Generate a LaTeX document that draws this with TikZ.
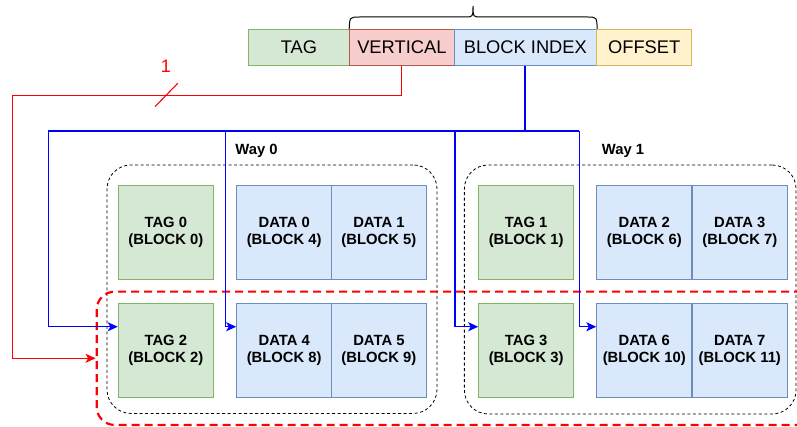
\documentclass[tikz,border=0pt]{standalone}
\usepackage{fontspec}
\setmainfont{Liberation Sans}
\usetikzlibrary{arrows.meta,calc}
\definecolor{gfill}{HTML}{D5E8D4}\definecolor{gline}{HTML}{82B366}
\definecolor{rfill}{HTML}{F8CECC}\definecolor{rline}{HTML}{B85450}
\definecolor{bfill}{HTML}{DAE8FC}\definecolor{bline}{HTML}{6C8EBF}
\definecolor{yfill}{HTML}{FFF2CC}\definecolor{yline}{HTML}{D6B656}
\definecolor{wire}{HTML}{0000FF}
\definecolor{rwire}{HTML}{FF0000}
\tikzset{
  field/.style={draw, line width=1pt, minimum height=35.7pt, inner sep=0pt, font=\fontsize{18.3}{20}\selectfont},
  tagbox/.style={draw=gline, fill=gfill, line width=1pt, minimum width=95pt, minimum height=94pt, inner sep=0pt, align=center, font=\bfseries\fontsize{14.8}{16.5}\selectfont},
  databox/.style={tagbox, draw=bline, fill=bfill},
  waybox/.style={draw=black, dash pattern=on 3pt off 2.5pt, line width=0.8pt, rounded corners=24pt, inner sep=0pt},
  waylabel/.style={font=\bfseries\fontsize{14.8}{16.5}\selectfont},
  bluewire/.style={draw=wire, line width=1.3pt},
  bluearrow/.style={bluewire, -{Stealth[length=10pt,width=9pt,inset=2.5pt]}},
  redwire/.style={draw=rwire, line width=1.1pt},
}
\begin{document}
\begin{tikzpicture}[x=1pt,y=-1pt]
\useasboundingbox (0,0) rectangle (797,427);
\clip (0,0) rectangle (797,427);
% top fields
\node[field, fill=gfill, draw=gline, minimum width=101.4pt] (tag) at (299,47.2) {TAG};
\node[field, fill=rfill, draw=rline, minimum width=104.3pt] (vert) at (401.85,47.2) {VERTICAL};
\node[field, fill=bfill, draw=bline, minimum width=142.7pt] (bidx) at (525.35,47.2) {BLOCK INDEX};
\node[field, fill=yfill, draw=yline, minimum width=95pt] (off) at (644.2,47.2) {OFFSET};
% brace
\draw[line width=1pt] (vert.north west) .. controls (349.7,17) .. (360,17) -- (465,17)
  .. controls (473,17) .. (473,6) .. controls (473,17) .. (481,17) -- (587,17)
  .. controls (596.7,17) .. (bidx.north east);
% way boxes
\node[waybox, minimum width=330pt, minimum height=248.5pt] (way0) at (272,289.2) {};
\node[waybox, minimum width=331.7pt, minimum height=249pt] (way1) at (630.2,289.5) {};
\node[waylabel] (w0l) at (256.5,150.5) {Way 0};
\node[waylabel] (w1l) at (623,150.5) {Way 1};
% blocks
\node[tagbox] (tag0) at (165.8,232.5) {TAG 0\\(BLOCK 0)};
\node[tagbox] (tag2) at (165.8,350.5) {TAG 2\\(BLOCK 2)};
\node[databox] (d0) at (284.2,232.5) {DATA 0\\(BLOCK 4)};
\node[databox] (d1) at (378.9,232.5) {DATA 1\\(BLOCK 5)};
\node[databox] (d4) at (284.2,350.5) {DATA 4\\(BLOCK 8)};
\node[databox] (d5) at (378.9,350.5) {DATA 5\\(BLOCK 9)};
\node[tagbox] (tag1) at (526.2,232.5) {TAG 1\\(BLOCK 1)};
\node[tagbox] (tag3) at (526.2,350.5) {TAG 3\\(BLOCK 3)};
\node[databox] (d2) at (644.3,232.5) {DATA 2\\(BLOCK 6)};
\node[databox] (d3) at (739.8,232.5) {DATA 3\\(BLOCK 7)};
\node[databox] (d6) at (644.3,350.5) {DATA 6\\(BLOCK 10)};
\node[databox] (d7) at (739.8,350.5) {DATA 7\\(BLOCK 11)};
% red selection box
\node[draw=rwire, line width=2.2pt, dash pattern=on 8pt off 5pt, rounded corners=18pt, minimum width=723.3pt, minimum height=133.3pt, inner sep=0pt] (sel) at (458.35,358.3) {};
% red wire
\coordinate (r1) at (12.3,95.5);
\draw[redwire, -{Stealth[length=10pt,width=9pt,inset=2.5pt]}] (vert.south) |- (r1) |- (sel.west);
\coordinate (s1) at (155,106.7);
\coordinate (s2) at (177.7,83.3);
\draw[redwire] (s1) -- (s2);
\node[text=rwire, font=\fontsize{18}{20}\selectfont] (one) at (166,66.5) {1};
% blue wires
\coordinate (bj) at (525.35,131);
\coordinate (bl) at (48.3,131);
\coordinate (br) at (579.3,131);
\coordinate (bm0) at (225.7,131);
\coordinate (bm1) at (455,131);
\draw[draw=wire, line width=2pt] (bidx.south) -- (bj);
\draw[bluewire] (bl) -- (br);
\draw[bluearrow] (bl) |- ($(tag2.north west)!0.25!(tag2.south west)$);
\draw[bluearrow] (bm0) |- ($(d4.north west)!0.25!(d4.south west)$);
\draw[bluearrow] (bm1) |- ($(tag3.north west)!0.25!(tag3.south west)$);
\draw[bluearrow] (br) |- ($(d6.north west)!0.25!(d6.south west)$);
\end{tikzpicture}
\end{document}
